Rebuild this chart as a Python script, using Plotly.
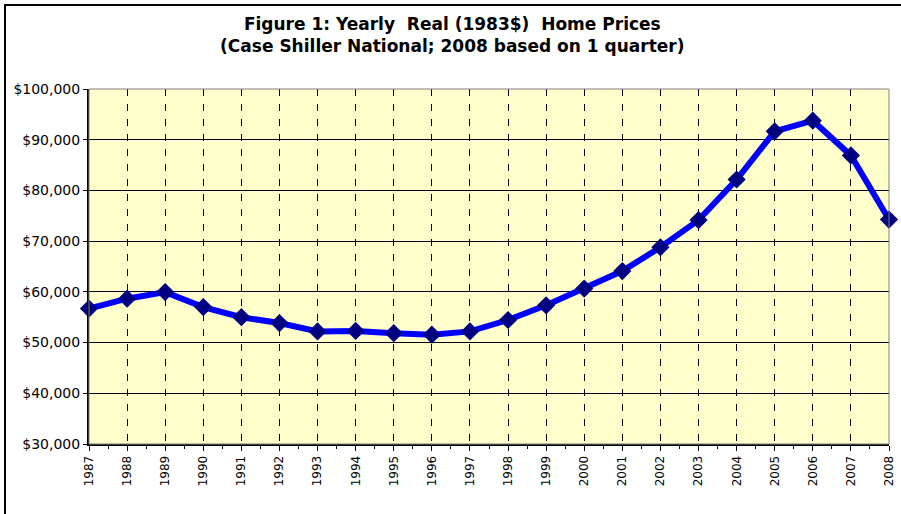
import plotly.graph_objects as go

# yearly real home prices (1983 dollars)
years = list(range(1987, 2009))
prices = [56700, 58650, 59950, 57000, 55000, 53850, 52200, 52300, 51850, 51550,
          52200, 54450, 57350, 60650, 64100, 68800, 74150, 82150, 91650, 93750,
          86900, 74250]

y_ticks = [30000, 40000, 50000, 60000, 70000, 80000, 90000, 100000]

title_lines = ["Figure 1: Yearly  Real (1983$)  Home Prices",
               "(Case Shiller National; 2008 based on 1 quarter)"]

fig = go.Figure()
fig.add_trace(go.Scatter(
    x=years, y=prices, mode="lines+markers",
    line=dict(color="#0000FF", width=6),
    marker=dict(symbol="diamond", size=14, color="#000080"),
    cliponaxis=False, showlegend=False,
))

fig.update_layout(
    width=901, height=514,
    margin=dict(l=89, r=12, t=89, b=70),
    paper_bgcolor="white",
    plot_bgcolor="#FFFFCC",
    font=dict(family="DejaVu Sans", color="black"),
    title=dict(text="<b>" + "<br>".join(title_lines) + "</b>",
               x=0.502, xanchor="center", y=0.941, yanchor="top",
               font=dict(size=17, family="DejaVu Sans")),
)

fig.update_xaxes(
    range=[1987, 2008], tickmode="array", tickvals=years,
    ticktext=[str(y) for y in years], tickangle=-90,
    tickfont=dict(size=12), automargin=False,
    ticks="outside", ticklen=5, tickcolor="black",
    showgrid=True, gridcolor="black", gridwidth=1, griddash="7px,8px",
    showline=True, linecolor="black", linewidth=2,
    minor=dict(ticks="outside", ticklen=3, tickcolor="black", dtick=0.5,
               showgrid=False),
    zeroline=False,
)
fig.update_yaxes(
    range=[30000, 100000], tickmode="array", tickvals=y_ticks,
    ticktext=["${:,}".format(v) for v in y_ticks],
    tickfont=dict(size=14), automargin=False,
    ticks="outside", ticklen=4, tickcolor="black",
    showgrid=True, gridcolor="black", gridwidth=1,
    showline=True, linecolor="black", linewidth=2,
    zeroline=False,
)

# grey frame on top/right of the plot area
fig.add_shape(type="rect", xref="paper", yref="paper", x0=0, x1=1, y0=0, y1=1,
              line=dict(color="#808080", width=1), layer="above")
# outer chart border
fig.add_shape(type="rect", xref="paper", yref="paper",
              x0=-0.105, x1=1.04, y0=-0.25, y1=1.2366,
              line=dict(color="black", width=2))

# drop the browser's default page margin so the chart sits at the window corner
fig.write_html("out.html", config={"displayModeBar": False},
               post_script="document.body.style.margin = '0';")
